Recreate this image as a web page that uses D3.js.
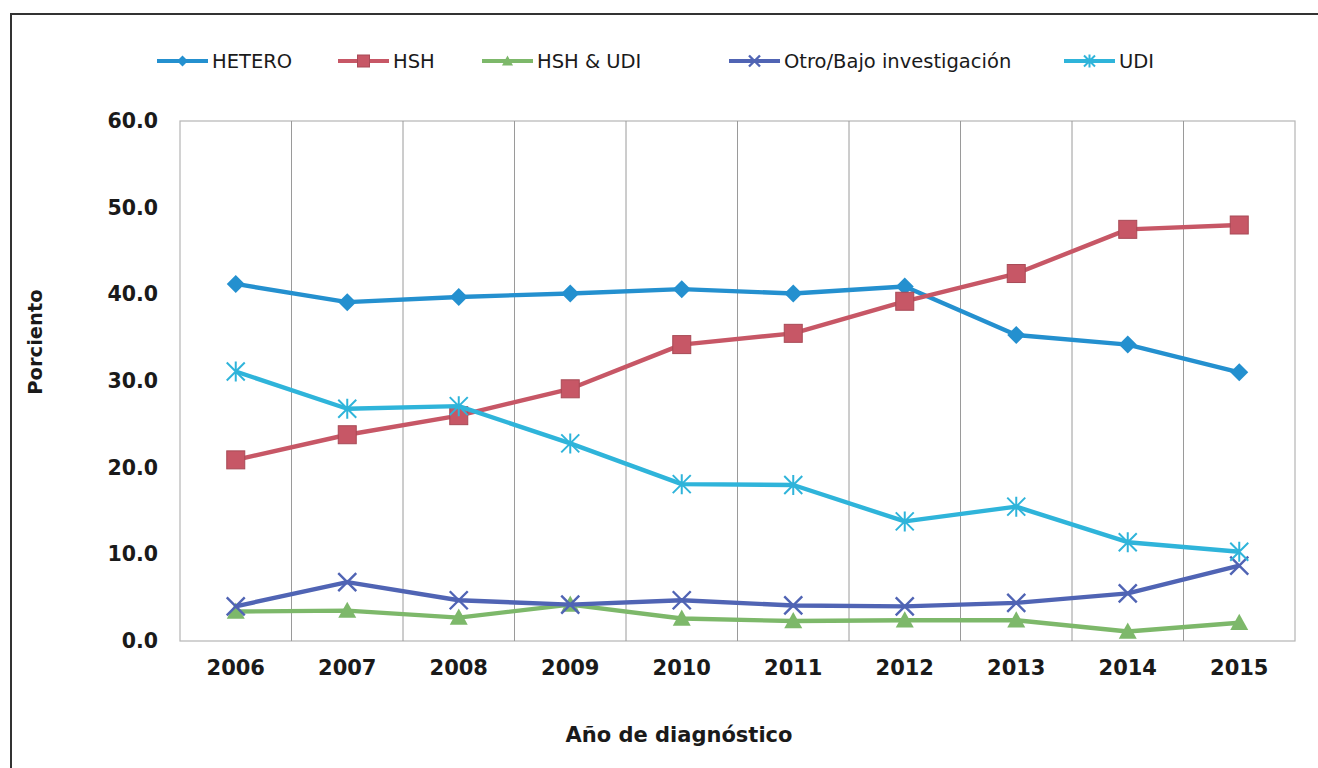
<!DOCTYPE html>
<html>
<head>
<meta charset="utf-8">
<script src="https://cdn.jsdelivr.net/npm/d3@7"></script>
<style>
  html, body { margin: 0; padding: 0; background: #fff; }
  svg { display: block; }
  text { font-family: "DejaVu Sans", Verdana, sans-serif; fill: #1a1a1a; }
</style>
</head>
<body>
<svg id="chart" width="1318" height="768"></svg>
<script>
// Años de diagnóstico
const years = ["2006", "2007", "2008", "2009", "2010", "2011", "2012", "2013", "2014", "2015"];

// Porcentaje por categoría de transmisión
const hetero   = [41.2, 39.1, 39.7, 40.1, 40.6, 40.1, 40.9, 35.3, 34.2, 31.0];
const hsh      = [20.9, 23.8, 26.0, 29.1, 34.2, 35.5, 39.2, 42.4, 47.5, 48.0];
const hshUdi   = [3.4, 3.5, 2.7, 4.2, 2.6, 2.3, 2.4, 2.4, 1.1, 2.1];
const otro     = [4.0, 6.8, 4.7, 4.2, 4.7, 4.1, 4.0, 4.4, 5.5, 8.7];
const udi      = [31.1, 26.8, 27.1, 22.8, 18.1, 18.0, 13.8, 15.5, 11.4, 10.3];

const seriesNames = ["HETERO", "HSH", "HSH & UDI", "Otro/Bajo investigación", "UDI"];
const yTicks = [0, 10, 20, 30, 40, 50, 60];

const series = [
  { name: seriesNames[0], values: hetero, color: "#2490cf", marker: "diamond" },
  { name: seriesNames[1], values: hsh,    color: "#c75766", marker: "square" },
  { name: seriesNames[2], values: hshUdi, color: "#7db86a", marker: "triangle" },
  { name: seriesNames[3], values: otro,   color: "#5064b4", marker: "x" },
  { name: seriesNames[4], values: udi,    color: "#2fb4da", marker: "asterisk" }
];

const svg = d3.select("#chart");

// Marco exterior del gráfico
svg.append("rect")
  .attr("x", 11).attr("y", 14)
  .attr("width", 1330).attr("height", 780)
  .attr("fill", "none").attr("stroke", "#333").attr("stroke-width", 2);

const plot = { left: 180, right: 1295, top: 121, bottom: 641 };

const x = d3.scaleBand().domain(years).range([plot.left, plot.right]);
const y = d3.scaleLinear().domain([0, 60]).range([plot.bottom, plot.top]);

// Área de trazado
svg.append("rect")
  .attr("x", plot.left).attr("y", plot.top)
  .attr("width", plot.right - plot.left).attr("height", plot.bottom - plot.top)
  .attr("fill", "#fff").attr("stroke", "#b5b5b5").attr("stroke-width", 1.2);

// Líneas verticales de división entre categorías
svg.append("g").selectAll("line")
  .data(years.slice(1))
  .join("line")
  .attr("x1", d => x(d)).attr("x2", d => x(d))
  .attr("y1", plot.top).attr("y2", plot.bottom)
  .attr("stroke", "#9a9a9a").attr("stroke-width", 1);

// Eje Y
const yAxis = svg.append("g")
  .attr("transform", `translate(${plot.left},0)`)
  .call(d3.axisLeft(y).tickValues(yTicks).tickFormat(d3.format(".1f")).tickSize(0).tickPadding(22));
yAxis.select(".domain").remove();
yAxis.selectAll("text")
  .style("font-family", '"DejaVu Sans", Verdana, sans-serif')
  .style("font-size", "20.5px").style("font-weight", "bold").attr("fill", "#1a1a1a");

// Eje X
const xAxis = svg.append("g")
  .attr("transform", `translate(0,${plot.bottom})`)
  .call(d3.axisBottom(x).tickSize(0).tickPadding(19));
xAxis.select(".domain").remove();
xAxis.selectAll("text")
  .style("font-family", '"DejaVu Sans", Verdana, sans-serif')
  .style("font-size", "21px").style("font-weight", "bold").attr("fill", "#1a1a1a");

// Títulos de los ejes
svg.append("text")
  .attr("transform", "translate(42,342) rotate(-90)")
  .attr("text-anchor", "middle")
  .style("font-size", "19.5px").style("font-weight", "bold")
  .text("Porciento");

svg.append("text")
  .attr("x", 679).attr("y", 742)
  .attr("text-anchor", "middle")
  .style("font-size", "21px").style("font-weight", "bold")
  .text("Año de diagnóstico");

// Dibujo de marcadores
function drawMarker(g, type, color, s) {
  const h = s / 2;
  if (type === "diamond") {
    g.append("path").attr("d", `M0,${-h}L${h},0L0,${h}L${-h},0Z`).attr("fill", color);
  } else if (type === "square") {
    g.append("rect").attr("x", -h).attr("y", -h).attr("width", s).attr("height", s)
      .attr("fill", color).attr("stroke", "#a84a56").attr("stroke-width", 1);
  } else if (type === "triangle") {
    g.append("path").attr("d", `M0,${-h}L${h},${h * 0.8}L${-h},${h * 0.8}Z`).attr("fill", color);
  } else if (type === "x") {
    g.append("path").attr("d", `M${-h},${-h}L${h},${h}M${-h},${h}L${h},${-h}`)
      .attr("stroke", color).attr("stroke-width", 2.4).attr("fill", "none");
  } else if (type === "asterisk") {
    g.append("path").attr("d", `M${-h},${-h}L${h},${h}M${-h},${h}L${h},${-h}M0,${-h - 1}L0,${h + 1}`)
      .attr("stroke", color).attr("stroke-width", 2).attr("fill", "none");
  }
}

const line = d3.line()
  .x((d, i) => x(years[i]) + x.bandwidth() / 2)
  .y(d => y(d));

const markerSize = { diamond: 18, square: 18, triangle: 18, x: 18, asterisk: 18 };

series.forEach(s => {
  const g = svg.append("g");
  g.append("path")
    .datum(s.values)
    .attr("d", line)
    .attr("fill", "none")
    .attr("stroke", s.color)
    .attr("stroke-width", 4.4)
    .attr("stroke-linejoin", "round");
  s.values.forEach((v, i) => {
    const m = g.append("g")
      .attr("transform", `translate(${x(years[i]) + x.bandwidth() / 2},${y(v)})`);
    drawMarker(m, s.marker, s.color, markerSize[s.marker]);
  });
});

// Leyenda
const legendX = [157, 338, 482, 729, 1064];
const legend = svg.append("g");
series.forEach((s, i) => {
  const g = legend.append("g").attr("transform", `translate(${legendX[i]},61)`);
  g.append("line").attr("x1", 0).attr("x2", 51).attr("y1", 0).attr("y2", 0)
    .attr("stroke", s.color).attr("stroke-width", 4);
  const m = g.append("g").attr("transform", "translate(25.5,0)");
  drawMarker(m, s.marker, s.color, s.marker === "square" ? 12 : 11);
  g.append("text").attr("x", 55).attr("y", 7)
    .style("font-size", "19.5px")
    .text(s.name);
});
</script>
</body>
</html>
